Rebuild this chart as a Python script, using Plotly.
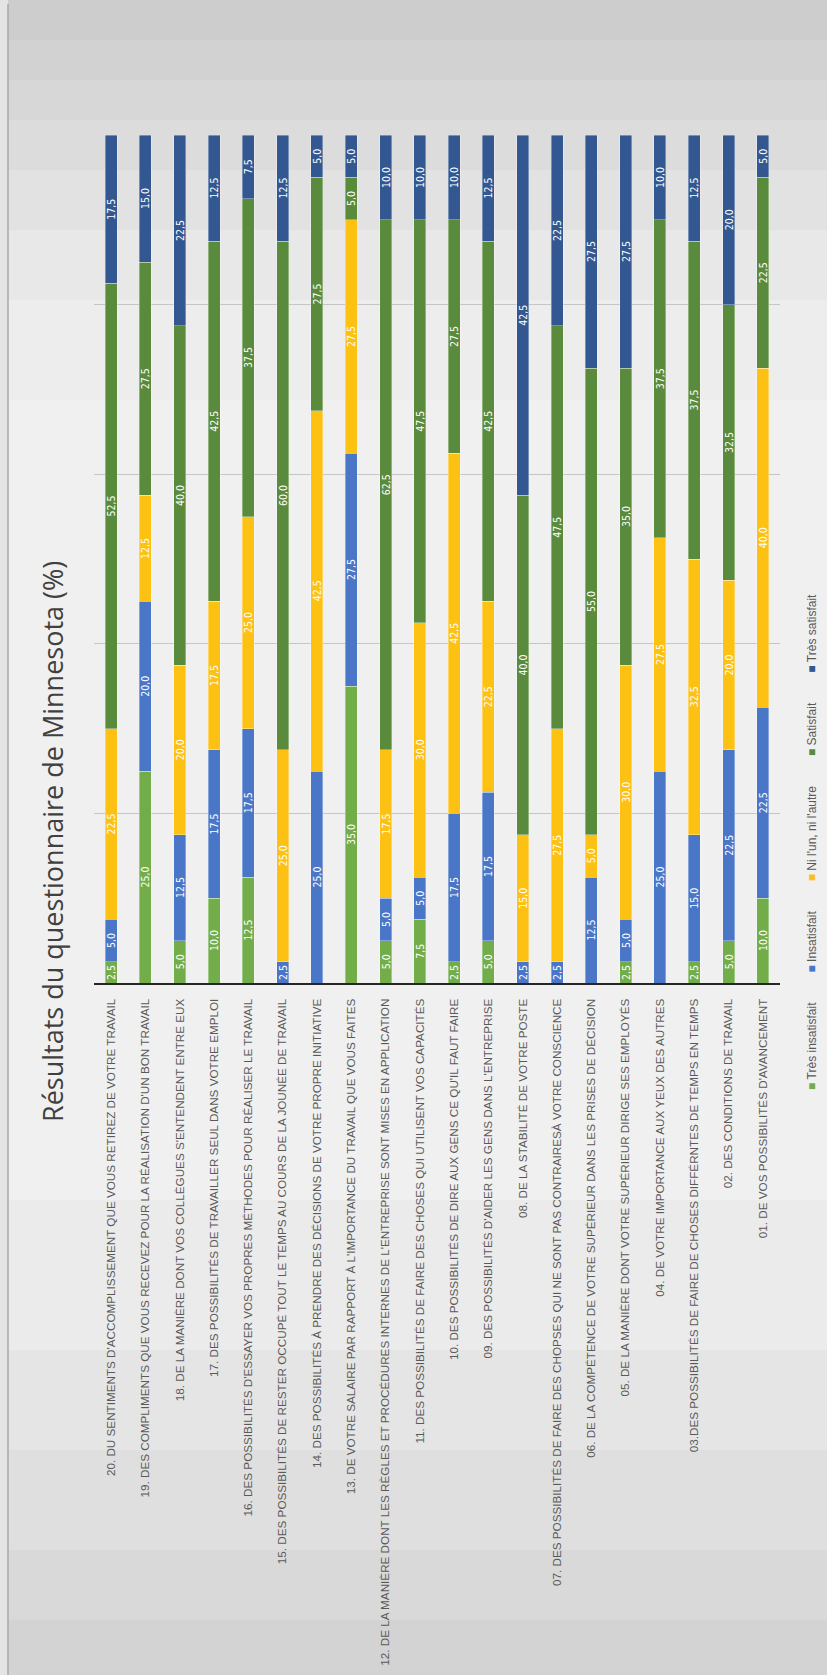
import plotly.graph_objects as go

W, H = 827, 1675
ML, MR, MT, MB = 94, 47, 135, 692

categories = [
    "20. DU SENTIMENTS D'ACCOMPLISSEMENT QUE VOUS RETIREZ DE VOTRE TRAVAIL",
    "19. DES COMPLIMENTS QUE VOUS RECEVEZ POUR LA RÉALISATION D'UN BON TRAVAIL",
    "18. DE LA MANIÈRE DONT VOS COLLÈGUES S'ENTENDENT ENTRE EUX",
    "17. DES POSSIBILITÉS DE TRAVAILLER SEUL DANS VOTRE EMPLOI",
    "16. DES POSSIBILITÉS D'ESSAYER VOS PROPRES MÉTHODES POUR RÉALISER LE TRAVAIL",
    "15. DES POSSIBILITÉS DE RESTER OCCUPÉ TOUT LE TEMPS AU COURS DE LA JOUNÉE DE TRAVAIL",
    "14. DES POSSIBILITÉS À PRENDRE DES DÉCISIONS DE VOTRE PROPRE INITIATIVE",
    "13. DE VOTRE SALAIRE PAR RAPPORT À L'IMPORTANCE DU TRAVAIL QUE VOUS FAITES",
    "12. DE LA MANIÈRE DONT LES RÈGLES ET PROCÉDURES INTERNES DE L'ENTREPRISE SONT MISES EN APPLICATION",
    "11. DES POSSIBILITÉS DE FAIRE DES CHOSES QUI UTILISENT VOS CAPACITÉS",
    "10. DES POSSIBILITÉS DE DIRE AUX GENS CE QU'IL FAUT FAIRE",
    "09. DES POSSIBILITÉS D'AIDER LES GENS DANS L'ENTREPRISE",
    "08. DE LA STABILITÉ DE VOTRE POSTE",
    "07. DES POSSIBILITÉS DE FAIRE DES CHOPSES QUI NE SONT PAS CONTRAIRESÀ VOTRE CONSCIENCE",
    "06. DE LA COMPÉTENCE DE VOTRE SUPÉRIEUR DANS LES PRISES DE DÉCISION",
    "05. DE LA MANIÈRE DONT VOTRE SUPÉRIEUR DIRIGE SES EMPLOYÉS",
    "04. DE VOTRE IMPORTANCE AUX YEUX DES AUTRES",
    "03.DES POSSIBILITÉS DE FAIRE DE CHOSES DIFFÉRNTES DE TEMPS EN TEMPS",
    "02. DES CONDITIONS DE TRAVAIL",
    "01. DE VOS POSSIBILITÉS D'AVANCEMENT",
]

tres_insatisfait = [2.5, 25.0, 5.0, 10.0, 12.5, 0.0, 0.0, 35.0, 5.0, 7.5, 2.5, 5.0, 0.0, 0.0, 0.0, 2.5, 0.0, 2.5, 5.0, 10.0]
insatisfait = [5.0, 20.0, 12.5, 17.5, 17.5, 2.5, 25.0, 27.5, 5.0, 5.0, 17.5, 17.5, 2.5, 2.5, 12.5, 5.0, 25.0, 15.0, 22.5, 22.5]
ni_lun = [22.5, 12.5, 20.0, 17.5, 25.0, 25.0, 42.5, 27.5, 17.5, 30.0, 42.5, 22.5, 15.0, 27.5, 5.0, 30.0, 27.5, 32.5, 20.0, 40.0]
satisfait = [52.5, 27.5, 40.0, 42.5, 37.5, 60.0, 27.5, 5.0, 62.5, 47.5, 27.5, 42.5, 40.0, 47.5, 55.0, 35.0, 37.5, 37.5, 32.5, 22.5]
tres_satisfait = [17.5, 15.0, 22.5, 12.5, 7.5, 12.5, 5.0, 5.0, 10.0, 10.0, 10.0, 12.5, 42.5, 22.5, 27.5, 27.5, 10.0, 12.5, 20.0, 5.0]

series_names = ["Très insatisfait", "Insatisfait", "Ni l'un, ni l'autre", "Satisfait", "Très satisfait"]
series_values = [tres_insatisfait, insatisfait, ni_lun, satisfait, tres_satisfait]
series_colors = ["#72ad4a", "#4a76c8", "#fdc114", "#5a8a3c", "#335891"]

title_text = "Résultats du questionnaire de Minnesota (%)"

fig = go.Figure()
for name, vals, col in zip(series_names, series_values, series_colors):
    fig.add_trace(go.Bar(
        x=categories, y=vals, name=name,
        marker=dict(color=col, line=dict(color="rgba(255,255,255,0.55)", width=0.6)),
        texttemplate="%{y:.1f}", textposition="inside", insidetextanchor="middle",
        textangle=-90,
        textfont=dict(color="white", size=10.5,
                      family="Liberation Sans Narrow, DejaVu Sans Condensed, Arial, sans-serif"),
        showlegend=False,
    ))

pw = W - ML - MR
ph = H - MT - MB


def px_x(px):
    return (px - ML) / pw


def px_y(py):
    return (H - MB - py) / ph


# background bands (photographed screen gradient)
bands = [
    (0, 40, "#cdcdcd"), (40, 80, "#d2d2d2"), (80, 120, "#d7d7d7"), (120, 170, "#dcdcdc"),
    (170, 230, "#e2e2e2"), (230, 300, "#e8e8e8"), (300, 400, "#ededed"), (400, 1200, "#f0f0f0"),
    (1200, 1350, "#ebebeb"), (1350, 1450, "#e5e5e5"), (1450, 1550, "#dfdfdf"), (1550, 1620, "#d9d9d9"),
    (1620, 1675, "#d3d3d3"),
]
shapes = []
for y0, y1, c in bands:
    shapes.append(dict(type="rect", xref="paper", yref="paper", layer="below",
                       x0=px_x(8), x1=px_x(W), y0=px_y(y1), y1=px_y(y0),
                       fillcolor=c, line=dict(width=0)))
shapes.append(dict(type="rect", xref="paper", yref="paper", layer="below",
                   x0=px_x(0), x1=px_x(8), y0=px_y(H), y1=px_y(0),
                   fillcolor="#e4e4e4", line=dict(width=0)))
shapes.append(dict(type="line", xref="paper", yref="paper", layer="below",
                   x0=px_x(8), x1=px_x(8), y0=px_y(H), y1=px_y(4),
                   line=dict(color="#a8a8a8", width=1.5)))

legend_text = ("&nbsp;" * 9).join(
    f'<span style="color:{c}">■</span>&nbsp;{n}' for n, c in zip(series_names, series_colors)
)

annotations = [
    dict(text=title_text, xref="paper", yref="paper", x=px_x(52), y=px_y(842),
         xanchor="center", yanchor="middle", textangle=-90, showarrow=False,
         font=dict(family="Open Sans, Liberation Sans, sans-serif", size=27, color="#404040")),
    dict(text=legend_text, xref="paper", yref="paper", x=px_x(812), y=px_y(842),
         xanchor="center", yanchor="middle", textangle=-90, showarrow=False,
         font=dict(family="Liberation Sans, Arial, sans-serif", size=12, color="#595959")),
]

fig.update_layout(
    width=W, height=H,
    margin=dict(l=ML, r=MR, t=MT, b=MB, pad=0),
    barmode="stack", bargap=0.65,
    separators=", ",
    paper_bgcolor="#e6e6e6", plot_bgcolor="rgba(0,0,0,0)",
    uniformtext=dict(minsize=10.5, mode="show"),
    shapes=shapes, annotations=annotations,
    xaxis=dict(
        categoryorder="array", categoryarray=categories, range=[-0.5, len(categories) - 0.5],
        tickangle=-90, showline=True, linecolor="#262626", linewidth=2,
        ticks="outside", ticklen=9, tickcolor="rgba(0,0,0,0)",
        tickfont=dict(family="Liberation Sans, Arial, sans-serif", size=11.7, color="#595959"),
        showgrid=False, automargin=False,
    ),
    yaxis=dict(
        range=[0, 100], dtick=20, showticklabels=False, showgrid=True,
        gridcolor="#c6c6c6", gridwidth=1, zeroline=False, showline=False, automargin=False,
    ),
)

fig.write_html("out.html")
